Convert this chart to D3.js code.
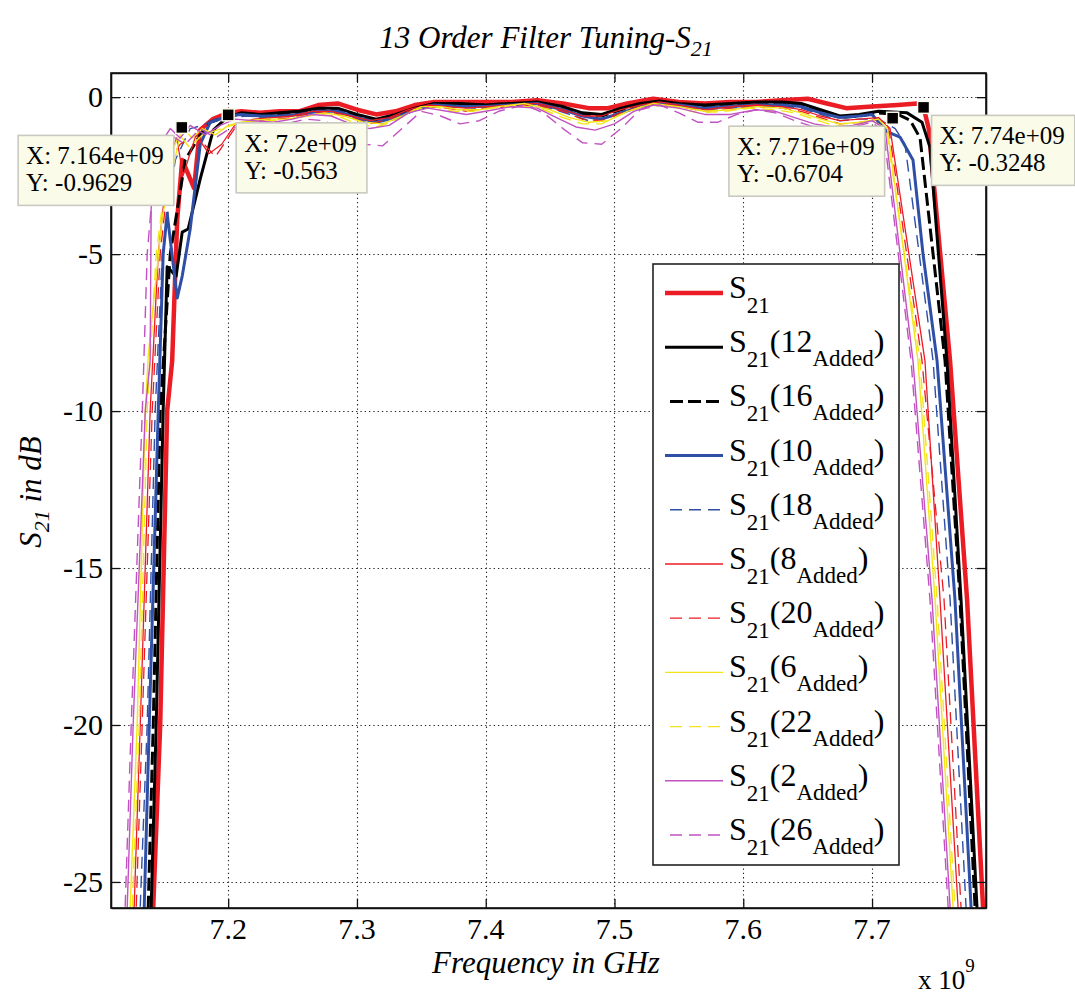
<!DOCTYPE html>
<html><head><meta charset="utf-8">
<script src="https://cdn.jsdelivr.net/npm/d3@7"></script>
<style>
body{margin:0;background:#fff}
svg{display:block}
text{font-family:"Liberation Serif","Times New Roman",serif;fill:#000}
</style>
</head><body>
<svg id="chart" width="1075" height="994"></svg>
<script>
// ---------- data ----------
const xTicks = [7.2, 7.3, 7.4, 7.5, 7.6, 7.7];
const yTicks = [-25, -20, -15, -10, -5, 0];
const xTickLabels = ["7.2", "7.3", "7.4", "7.5", "7.6", "7.7"];
const yTickLabels = ["-25", "-20", "-15", "-10", "-5", "0"];
const xDomain = [7.109, 7.7885];
const yDomain = [-25.83, 0.77];

const legendAdded = [null, "12", "16", "10", "18", "8", "20", "6", "22", "2", "26"];

const s21 = [[7.1405,-27],[7.1418,-25.8],[7.1472,-20],[7.1526,-10],[7.1565,-8.4],[7.1604,-3.9],[7.1643,-2.0],[7.1735,-2.9],[7.178,-1.05],[7.188,-0.7],[7.2,-0.5],[7.21,-0.45],[7.225,-0.5],[7.24,-0.45],[7.255,-0.45],[7.27,-0.25],[7.285,-0.2],[7.3,-0.4],[7.315,-0.55],[7.33,-0.45],[7.345,-0.25],[7.36,-0.15],[7.38,-0.15],[7.40,-0.15],[7.42,-0.15],[7.44,-0.1],[7.46,-0.2],[7.48,-0.35],[7.495,-0.35],[7.51,-0.2],[7.53,-0.05],[7.55,-0.15],[7.57,-0.2],[7.59,-0.15],[7.61,-0.15],[7.63,-0.1],[7.65,-0.05],[7.665,-0.2],[7.68,-0.35],[7.70,-0.3],[7.72,-0.25],[7.735,-0.2],[7.74,-0.32],[7.744,-1.0],[7.7606,-8.4],[7.7738,-16],[7.7862,-25.8],[7.7875,-27]];
const s21_12 = [[7.1389,-27],[7.1402,-25.8],[7.1441,-20],[7.1495,-10],[7.1526,-5.4],[7.1596,-5.7],[7.1643,-4.3],[7.1689,-4.2],[7.1783,-2.6],[7.1884,-1.05],[7.1992,-0.64],[7.21,-0.5],[7.225,-0.55],[7.24,-0.5],[7.255,-0.45],[7.27,-0.35],[7.285,-0.35],[7.3,-0.55],[7.315,-0.7],[7.33,-0.55],[7.345,-0.35],[7.36,-0.2],[7.38,-0.2],[7.40,-0.25],[7.42,-0.2],[7.44,-0.15],[7.46,-0.3],[7.475,-0.5],[7.49,-0.55],[7.505,-0.35],[7.52,-0.2],[7.535,-0.12],[7.55,-0.2],[7.57,-0.25],[7.59,-0.2],[7.61,-0.15],[7.63,-0.15],[7.645,-0.2],[7.66,-0.4],[7.675,-0.6],[7.69,-0.55],[7.705,-0.45],[7.7272,-0.5],[7.7388,-0.8],[7.745,-1.6],[7.7582,-8.4],[7.7691,-16],[7.7815,-25.8],[7.7828,-27]];
const s21_16 = [[7.1366,-27],[7.1379,-25.8],[7.1418,-20],[7.1472,-10],[7.155,-5],[7.1666,-2],[7.1783,-1.2],[7.186,-0.8],[7.2,-0.6],[7.21,-0.55],[7.225,-0.6],[7.24,-0.55],[7.255,-0.5],[7.27,-0.4],[7.285,-0.4],[7.3,-0.6],[7.315,-0.75],[7.33,-0.6],[7.345,-0.4],[7.36,-0.25],[7.38,-0.25],[7.40,-0.25],[7.42,-0.2],[7.44,-0.2],[7.46,-0.35],[7.475,-0.55],[7.49,-0.6],[7.505,-0.4],[7.52,-0.25],[7.535,-0.15],[7.55,-0.25],[7.57,-0.3],[7.59,-0.25],[7.61,-0.2],[7.63,-0.2],[7.645,-0.25],[7.66,-0.45],[7.675,-0.65],[7.69,-0.6],[7.705,-0.5],[7.72,-0.55],[7.7295,-0.73],[7.7373,-1.3],[7.7567,-8.4],[7.7683,-16],[7.78,-25.8],[7.7813,-27]];
const s21_10 = [[7.1335,-27],[7.1348,-25.8],[7.1387,-20],[7.1457,-10],[7.1495,-5],[7.1526,-3.7],[7.1604,-6.4],[7.1643,-5.7],[7.1705,-4.2],[7.1783,-1.5],[7.186,-0.8],[7.2,-0.6],[7.21,-0.55],[7.225,-0.6],[7.24,-0.6],[7.255,-0.55],[7.27,-0.45],[7.285,-0.45],[7.3,-0.65],[7.315,-0.8],[7.33,-0.65],[7.345,-0.4],[7.36,-0.25],[7.38,-0.3],[7.40,-0.3],[7.42,-0.25],[7.44,-0.2],[7.46,-0.4],[7.475,-0.6],[7.49,-0.7],[7.505,-0.5],[7.52,-0.3],[7.535,-0.2],[7.55,-0.25],[7.57,-0.35],[7.59,-0.3],[7.61,-0.25],[7.63,-0.25],[7.645,-0.3],[7.66,-0.5],[7.675,-0.65],[7.69,-0.6],[7.7,-0.55],[7.7116,-1.1],[7.7217,-1.27],[7.7318,-2.0],[7.7396,-5.0],[7.7505,-8.4],[7.7644,-16],[7.7769,-25.8],[7.7782,-27]];
const s21_18 = [[7.1304,-27],[7.1317,-25.8],[7.1371,-20],[7.1433,-10],[7.1488,-5],[7.1589,-2],[7.1705,-1.0],[7.18,-0.9],[7.19,-0.7],[7.2,-0.65],[7.215,-0.6],[7.23,-0.65],[7.245,-0.6],[7.26,-0.55],[7.275,-0.45],[7.29,-0.55],[7.305,-0.75],[7.32,-0.85],[7.335,-0.6],[7.35,-0.35],[7.37,-0.3],[7.39,-0.35],[7.41,-0.3],[7.43,-0.25],[7.45,-0.35],[7.465,-0.55],[7.48,-0.75],[7.495,-0.65],[7.51,-0.4],[7.53,-0.2],[7.55,-0.3],[7.57,-0.4],[7.59,-0.35],[7.61,-0.3],[7.63,-0.3],[7.645,-0.35],[7.66,-0.55],[7.675,-0.75],[7.69,-0.7],[7.705,-0.7],[7.718,-1.0],[7.7256,-1.5],[7.7474,-8.4],[7.7606,-16],[7.773,-25.8],[7.7743,-27]];
const s21_8 = [[7.1257,-27],[7.127,-25.8],[7.1317,-20],[7.1394,-10],[7.1457,-5],[7.1534,-2],[7.16,-1.3],[7.165,-2.5],[7.175,-1.2],[7.185,-1.8],[7.195,-1.5],[7.205,-0.9],[7.22,-0.7],[7.235,-0.65],[7.25,-0.6],[7.265,-0.45],[7.28,-0.45],[7.295,-0.6],[7.31,-0.75],[7.325,-0.65],[7.34,-0.4],[7.355,-0.25],[7.37,-0.3],[7.385,-0.35],[7.40,-0.3],[7.42,-0.25],[7.44,-0.2],[7.46,-0.4],[7.475,-0.6],[7.49,-0.6],[7.505,-0.4],[7.52,-0.25],[7.535,-0.15],[7.55,-0.25],[7.57,-0.4],[7.59,-0.3],[7.61,-0.25],[7.63,-0.3],[7.645,-0.4],[7.66,-0.6],[7.675,-0.75],[7.69,-0.7],[7.705,-0.65],[7.714,-1.0],[7.7411,-8.4],[7.7528,-16],[7.7668,-25.8],[7.7681,-27]];
const s21_20 = [[7.1272,-27],[7.1286,-25.8],[7.1332,-20],[7.141,-10],[7.1472,-5],[7.155,-2],[7.1627,-1.5],[7.175,-1.2],[7.19,-1.9],[7.205,-1.0],[7.22,-0.75],[7.235,-0.7],[7.25,-0.65],[7.265,-0.5],[7.28,-0.5],[7.295,-0.65],[7.31,-0.85],[7.325,-0.7],[7.34,-0.45],[7.355,-0.3],[7.37,-0.35],[7.385,-0.45],[7.40,-0.35],[7.42,-0.3],[7.44,-0.25],[7.46,-0.45],[7.475,-0.7],[7.49,-0.75],[7.505,-0.5],[7.52,-0.3],[7.535,-0.2],[7.55,-0.3],[7.57,-0.45],[7.59,-0.35],[7.61,-0.3],[7.63,-0.35],[7.645,-0.45],[7.66,-0.65],[7.675,-0.85],[7.69,-0.8],[7.705,-0.7],[7.713,-1.0],[7.7388,-8.4],[7.7559,-16],[7.7691,-25.8],[7.7704,-27]];
const s21_6 = [[7.1226,-27],[7.1239,-25.8],[7.1293,-20],[7.1356,-10],[7.138,-8.2],[7.1488,-3.8],[7.164,-0.96],[7.172,-1.3],[7.18,-1.0],[7.19,-1.2],[7.2,-0.9],[7.215,-0.75],[7.23,-0.7],[7.245,-0.7],[7.26,-0.6],[7.275,-0.5],[7.29,-0.6],[7.305,-0.8],[7.32,-0.85],[7.335,-0.6],[7.35,-0.3],[7.365,-0.3],[7.38,-0.4],[7.395,-0.4],[7.41,-0.3],[7.43,-0.2],[7.45,-0.4],[7.465,-0.65],[7.48,-0.8],[7.495,-0.75],[7.51,-0.45],[7.53,-0.2],[7.55,-0.3],[7.57,-0.45],[7.59,-0.4],[7.61,-0.3],[7.63,-0.35],[7.645,-0.5],[7.66,-0.7],[7.675,-0.85],[7.69,-0.8],[7.705,-0.7],[7.712,-1.0],[7.7357,-8.4],[7.7489,-16],[7.7629,-25.8],[7.7642,-27]];
const s21_22 = [[7.1241,-27],[7.1255,-25.8],[7.1309,-20],[7.1371,-10],[7.1441,-5],[7.1534,-2],[7.162,-1.2],[7.17,-1.6],[7.18,-1.2],[7.195,-1.0],[7.21,-0.8],[7.225,-0.75],[7.24,-0.75],[7.255,-0.65],[7.27,-0.55],[7.285,-0.6],[7.3,-0.85],[7.315,-0.95],[7.33,-0.75],[7.345,-0.4],[7.36,-0.3],[7.375,-0.45],[7.39,-0.45],[7.405,-0.35],[7.425,-0.25],[7.445,-0.4],[7.46,-0.65],[7.475,-0.85],[7.49,-0.85],[7.505,-0.55],[7.525,-0.25],[7.545,-0.3],[7.565,-0.5],[7.585,-0.45],[7.605,-0.35],[7.625,-0.4],[7.64,-0.5],[7.655,-0.7],[7.67,-0.9],[7.685,-0.9],[7.70,-0.75],[7.711,-1.0],[7.7372,-8.4],[7.7505,-16],[7.7644,-25.8],[7.7657,-27]];
const s21_2 = [[7.1203,-27],[7.1216,-25.8],[7.1262,-20],[7.1356,-10],[7.1394,-8.4],[7.1402,-3.5],[7.1472,-1.5],[7.155,-1.0],[7.1627,-1.3],[7.1705,-0.9],[7.1821,-1.2],[7.1938,-0.9],[7.2054,-0.7],[7.22,-0.75],[7.235,-0.8],[7.25,-0.7],[7.265,-0.55],[7.28,-0.6],[7.295,-0.85],[7.31,-1.0],[7.325,-0.9],[7.34,-0.5],[7.355,-0.35],[7.37,-0.45],[7.385,-0.55],[7.40,-0.45],[7.42,-0.3],[7.44,-0.35],[7.455,-0.65],[7.47,-0.95],[7.485,-1.05],[7.50,-0.85],[7.515,-0.45],[7.53,-0.25],[7.55,-0.35],[7.57,-0.55],[7.59,-0.55],[7.61,-0.4],[7.625,-0.45],[7.64,-0.65],[7.655,-0.85],[7.67,-0.95],[7.685,-0.9],[7.70,-0.75],[7.7101,-1.0],[7.7318,-8.4],[7.7466,-16],[7.7606,-25.8],[7.7619,-27]];
const s21_26 = [[7.1187,-27],[7.12,-25.8],[7.1247,-20],[7.1333,-10],[7.1371,-5],[7.1433,-2],[7.155,-1.2],[7.1666,-1.5],[7.1783,-1.0],[7.19,-1.3],[7.2015,-1.0],[7.215,-0.9],[7.23,-0.95],[7.245,-0.85],[7.26,-0.7],[7.275,-0.75],[7.29,-1.1],[7.305,-1.5],[7.32,-1.55],[7.335,-1.0],[7.35,-0.45],[7.365,-0.6],[7.38,-0.85],[7.395,-0.75],[7.41,-0.45],[7.43,-0.25],[7.445,-0.5],[7.46,-1.0],[7.475,-1.45],[7.49,-1.5],[7.505,-1.0],[7.52,-0.4],[7.535,-0.25],[7.55,-0.5],[7.565,-0.8],[7.58,-0.8],[7.595,-0.55],[7.61,-0.4],[7.625,-0.5],[7.64,-0.75],[7.655,-0.95],[7.67,-1.0],[7.685,-0.95],[7.70,-0.8],[7.709,-1.1],[7.7303,-8.4],[7.745,-16],[7.7591,-25.8],[7.7604,-27]];

const tipFreq = [7.164, 7.2, 7.716, 7.74];
const tipDb = [-0.9629, -0.563, -0.6704, -0.3248];
const tipX = ["X: 7.164e+09", "X: 7.2e+09", "X: 7.716e+09", "X: 7.74e+09"];
const tipY = ["Y: -0.9629", "Y: -0.563", "Y: -0.6704", "Y: -0.3248"];

// ---------- styles ----------
const RED = "#ec1c24", BLUE = "#2f4fa6", YEL = "#f2e41a", MAG = "#c152c1";
const allSeries = [s21, s21_12, s21_16, s21_10, s21_18, s21_8, s21_20, s21_6, s21_22, s21_2, s21_26];
const styles = [
  {c: RED, w: 4.5, d: null},
  {c: "#000", w: 3, d: null},
  {c: "#000", w: 3, d: "13,5"},
  {c: BLUE, w: 3, d: null},
  {c: BLUE, w: 1.4, d: "12,7"},
  {c: RED, w: 1.3, d: null},
  {c: RED, w: 1.3, d: "12,7"},
  {c: YEL, w: 1.4, d: null},
  {c: YEL, w: 1.4, d: "12,7"},
  {c: MAG, w: 1.4, d: null},
  {c: MAG, w: 1.4, d: "12,7"}
];
const tipSide = ["left", "right", "left", "right"];

// ---------- layout ----------
const L = 111, R = 986, T = 73, B = 908;
const svg = d3.select("#chart");
const x = d3.scaleLinear().domain(xDomain).range([L, R]);
const y = d3.scaleLinear().domain(yDomain).range([B, T]);

svg.append("defs").append("clipPath").attr("id", "clip")
  .append("rect").attr("x", L).attr("y", T).attr("width", R - L).attr("height", B - T);

// grid
const grid = svg.append("g").attr("stroke", "#222").attr("stroke-width", 1.1).attr("stroke-dasharray", "1.3,3");
grid.selectAll(".gx").data(xTicks).join("line")
  .attr("x1", d => Math.round(x(d)) + 0.5).attr("x2", d => Math.round(x(d)) + 0.5).attr("y1", T).attr("y2", B);
grid.selectAll(".gy").data(yTicks).join("line")
  .attr("y1", d => Math.round(y(d)) + 0.5).attr("y2", d => Math.round(y(d)) + 0.5).attr("x1", L).attr("x2", R);

// series
const line = d3.line().x(d => x(d[0])).y(d => y(d[1]));
const lines = svg.append("g").attr("clip-path", "url(#clip)");
allSeries.forEach((s, i) => {
  lines.append("path").attr("d", line(s)).attr("fill", "none")
    .attr("stroke", styles[i].c).attr("stroke-width", styles[i].w)
    .attr("stroke-dasharray", styles[i].d).attr("stroke-linejoin", "round");
});

// axes (all four sides, inward ticks; labels drawn separately)
const tl = 9;
const axes = [
  svg.append("g").attr("transform", `translate(0,${B})`).call(d3.axisBottom(x).tickValues(xTicks).tickSizeInner(-tl).tickSizeOuter(0).tickFormat("")),
  svg.append("g").attr("transform", `translate(0,${T})`).call(d3.axisTop(x).tickValues(xTicks).tickSizeInner(-tl).tickSizeOuter(0).tickFormat("")),
  svg.append("g").attr("transform", `translate(${L},0)`).call(d3.axisLeft(y).tickValues(yTicks).tickSizeInner(-tl).tickSizeOuter(0).tickFormat("")),
  svg.append("g").attr("transform", `translate(${R},0)`).call(d3.axisRight(y).tickValues(yTicks).tickSizeInner(-tl).tickSizeOuter(0).tickFormat(""))
];
axes.forEach(a => {
  a.select(".domain").attr("stroke", "#111").attr("stroke-width", 1.6);
  a.selectAll(".tick line").attr("stroke", "#111").attr("stroke-width", 1.3);
  a.selectAll(".tick text").remove();
});
svg.append("g").selectAll("text").data(xTicks).join("text")
  .attr("x", d => x(d)).attr("y", B + 31).attr("text-anchor", "middle")
  .style("font-size", "30px").text((d, i) => xTickLabels[i]);
svg.append("g").selectAll("text").data(yTicks).join("text")
  .attr("x", L - 8).attr("y", d => y(d) + 10).attr("text-anchor", "end")
  .style("font-size", "30px").text((d, i) => yTickLabels[i]);

// box
svg.append("rect").attr("x", L).attr("y", T).attr("width", R - L).attr("height", B - T)
  .attr("fill", "none").attr("stroke", "#111").attr("stroke-width", 1.6);

// title
const title = svg.append("text").attr("x", 546).attr("y", 48).attr("text-anchor", "middle")
  .style("font-size", "31px").style("font-style", "italic");
title.append("tspan").text("13 Order Filter Tuning-S");
title.append("tspan").attr("dy", 8).style("font-size", "22px").text("21");

// x label
svg.append("text").attr("x", 546).attr("y", 973).attr("text-anchor", "middle")
  .style("font-size", "31px").style("font-style", "italic").text("Frequency in GHz");
const ex = svg.append("text").attr("x", 918).attr("y", 989).style("font-size", "27px");
ex.append("tspan").text("x 10");
ex.append("tspan").attr("dy", -17).style("font-size", "19px").text("9");

// y label
const yl = svg.append("text").attr("transform", "translate(41,492) rotate(-90)").attr("text-anchor", "middle")
  .style("font-size", "31px").style("font-style", "italic");
yl.append("tspan").text("S");
yl.append("tspan").attr("dy", 8).style("font-size", "22px").text("21");
yl.append("tspan").attr("dy", -8).text(" in dB");

// legend
const lgX = 653, lgY = 264, lgW = 246, lgH = 601, rowH = 54.2, row0 = 293;
const lg = svg.append("g");
lg.append("rect").attr("x", lgX).attr("y", lgY).attr("width", lgW).attr("height", lgH)
  .attr("fill", "#fff").attr("stroke", "#222").attr("stroke-width", 1.6);
legendAdded.forEach((a, i) => {
  const ly = row0 + i * rowH;
  const st = styles[i];
  lg.append("line").attr("x1", st.d ? 670 : 665).attr("x2", 723).attr("y1", ly).attr("y2", ly)
    .attr("stroke", st.c).attr("stroke-width", st.w).attr("stroke-dasharray", st.d);
  const t = lg.append("text").attr("x", 729).attr("y", ly + 5).style("font-size", "32px");
  t.append("tspan").text("S");
  t.append("tspan").attr("dy", 15).style("font-size", "23px").text("21");
  if (a !== null) {
    t.append("tspan").attr("dy", -15).text("(" + a);
    t.append("tspan").attr("dy", 14).style("font-size", "23px").text("Added");
    t.append("tspan").attr("dy", -14).text(")");
  }
});

// data tips
tipFreq.forEach((f, i) => {
  const mx = x(f), my = y(tipDb[i]);
  const g = svg.append("g");
  const box = g.append("rect").attr("fill", "#fbfbea").attr("stroke", "#c9c9c0").attr("stroke-width", 1.6);
  const t1 = g.append("text").style("font-size", "25px").text(tipX[i]);
  const t2 = g.append("text").style("font-size", "25px").text(tipY[i]);
  const w = Math.max(t1.node().getComputedTextLength(), t2.node().getComputedTextLength()) + 18;
  const h = 70;
  const bx = tipSide[i] === "left" ? mx - 8 - w : mx + 8;
  const by = my + 8;
  box.attr("x", bx).attr("y", by).attr("width", w).attr("height", h);
  t1.attr("x", bx + 8).attr("y", by + 29);
  t2.attr("x", bx + 8).attr("y", by + 56);
  g.append("rect").attr("x", mx - 6).attr("y", my - 6).attr("width", 12).attr("height", 12)
    .attr("fill", "#000").attr("stroke", "#fbfbea").attr("stroke-width", 1.5);
});
</script>
</body></html>
